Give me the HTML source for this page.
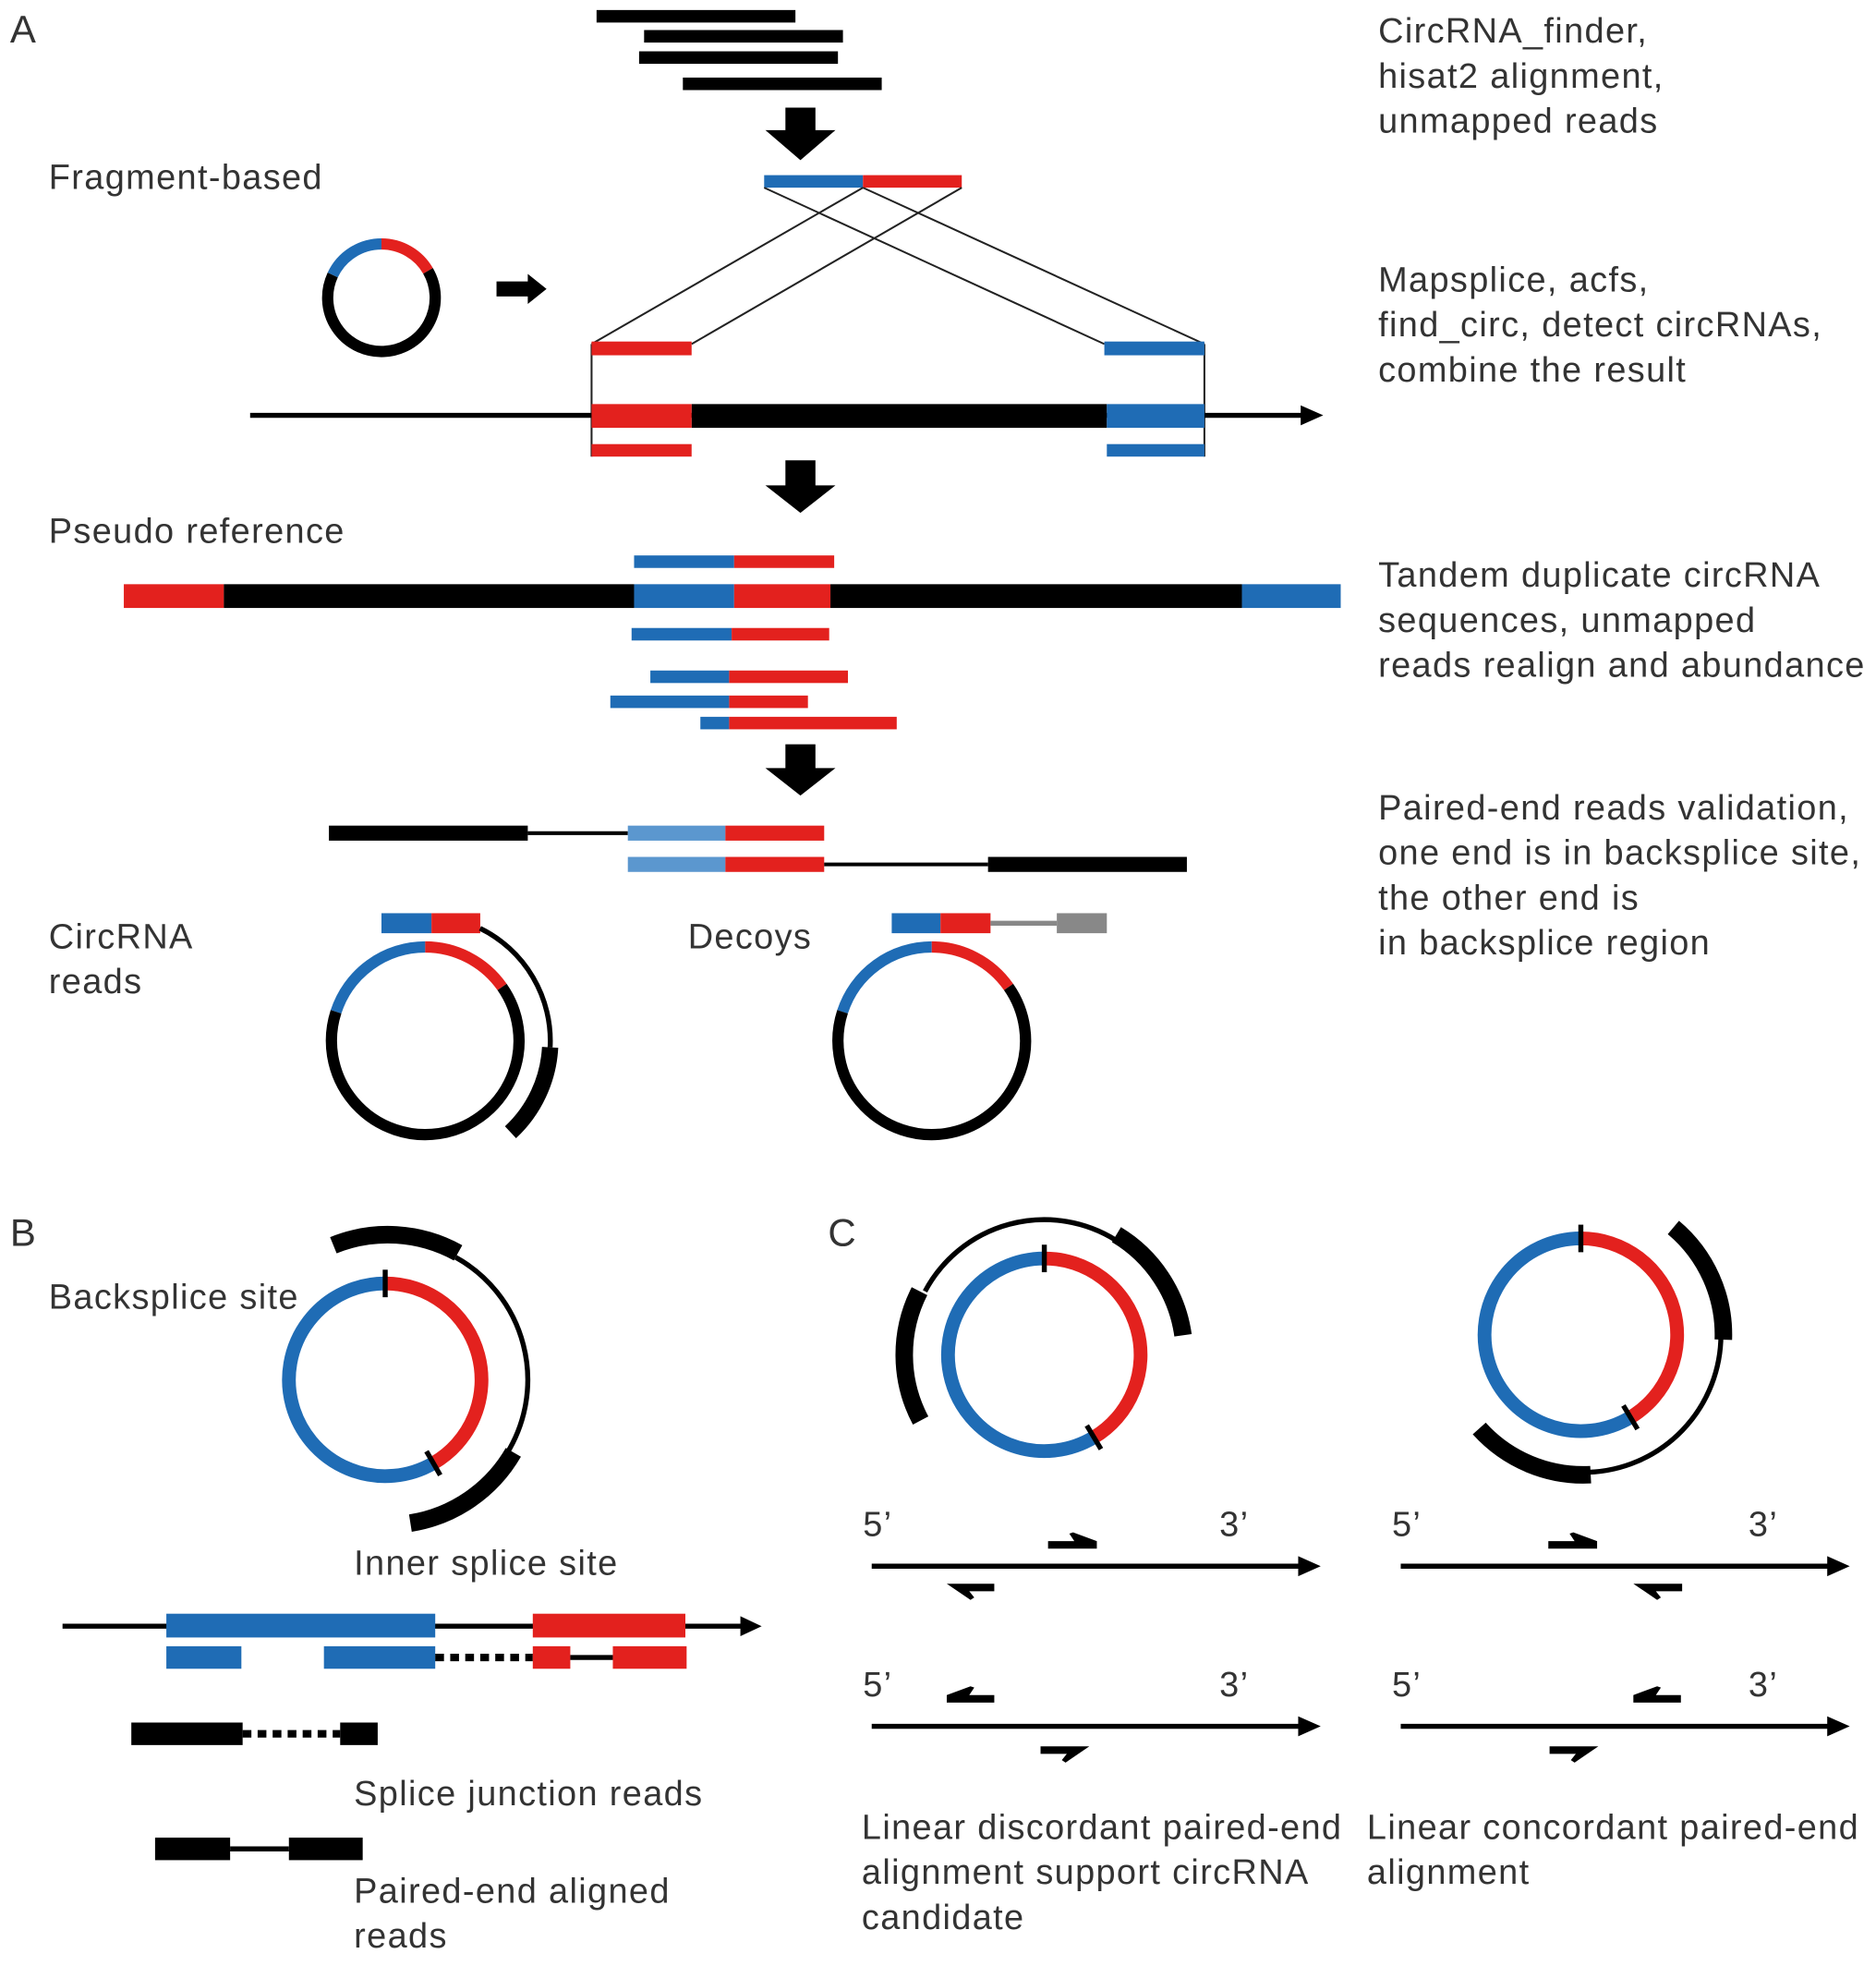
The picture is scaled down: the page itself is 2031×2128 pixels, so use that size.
<!DOCTYPE html>
<html><head><meta charset="utf-8"><style>
html,body{margin:0;padding:0;background:#fff;}
svg{display:block;}
text{font-family:"Liberation Sans",Arial,sans-serif;fill:#333;font-size:28px;letter-spacing:1px;}
</style></head><body>
<svg id="s" width="2031" height="2128" viewBox="0 0 1500 1571.6" xmlns="http://www.w3.org/2000/svg">
<defs>
<style>.b{fill:#1f6cb5}.r{fill:#e3211e}.k{fill:#000}.lb{fill:#5b97cf}</style>
</defs>
<!-- Panel A -->
<text x="8" y="34" style="font-size:31px">A</text>
<rect class="k" x="477" y="8" width="159" height="10"/>
<rect class="k" x="515" y="24" width="159" height="10"/>
<rect class="k" x="511" y="41" width="159" height="10"/>
<rect class="k" x="546" y="62" width="159" height="10"/>
<path class="k" d="M628 86H652V104H668L640 128L612 104H628Z"/>
<text x="1102" y="34">CircRNA_finder,</text>
<text x="1102" y="70">hisat2 alignment,</text>
<text x="1102" y="106">unmapped reads</text>
<text x="39" y="151">Fragment-based</text>
<rect class="b" x="611" y="140" width="79" height="10"/>
<rect class="r" x="690" y="140" width="79" height="10"/>
<g stroke="#222" stroke-width="1.5">
<line x1="690" y1="150" x2="473" y2="275"/>
<line x1="769" y1="150" x2="553" y2="275"/>
<line x1="611" y1="150" x2="883" y2="275"/>
<line x1="690" y1="150" x2="963" y2="275"/>
<line x1="473" y1="275" x2="473" y2="365"/>
<line x1="963" y1="275" x2="963" y2="365"/>
</g>
<path class="k" d="M397 225H422V219L437 231L422 243V237H397Z"/>
<text x="1102" y="233">Mapsplice, acfs,</text>
<text x="1102" y="269">find_circ, detect circRNAs,</text>
<text x="1102" y="305">combine the result</text>
<rect class="r" x="473" y="273" width="80" height="11"/>
<rect class="b" x="883" y="273" width="80" height="11"/>
<line x1="200" y1="332" x2="1045" y2="332" stroke="#000" stroke-width="4"/>
<path class="k" d="M1040 324L1058 332L1040 340Z"/>
<rect class="k" x="553" y="323" width="332" height="19"/>
<rect class="r" x="473" y="323" width="80" height="19"/>
<rect class="b" x="885" y="323" width="78" height="19"/>
<rect class="r" x="473" y="355" width="80" height="10"/>
<rect class="b" x="885" y="355" width="78" height="10"/>
<path class="k" d="M628 368H652V388H668L640 410L612 388H628Z"/>
<text x="39" y="434">Pseudo reference</text>
<rect class="b" x="507" y="444" width="80" height="10"/>
<rect class="r" x="587" y="444" width="80" height="10"/>
<rect class="r" x="99" y="467" width="80" height="19"/>
<rect class="k" x="179" y="467" width="328" height="19"/>
<rect class="b" x="507" y="467" width="80" height="19"/>
<rect class="r" x="587" y="467" width="77" height="19"/>
<rect class="k" x="664" y="467" width="329" height="19"/>
<rect class="b" x="993" y="467" width="79" height="19"/>
<rect class="b" x="505" y="502" width="80" height="10"/><rect class="r" x="585" y="502" width="78" height="10"/>
<rect class="b" x="520" y="536" width="63" height="10"/><rect class="r" x="583" y="536" width="95" height="10"/>
<rect class="b" x="488" y="556" width="95" height="10"/><rect class="r" x="583" y="556" width="63" height="10"/>
<rect class="b" x="560" y="573" width="23" height="10"/><rect class="r" x="583" y="573" width="134" height="10"/>
<text x="1102" y="469">Tandem duplicate circRNA</text>
<text x="1102" y="505">sequences, unmapped</text>
<text x="1102" y="541">reads realign and abundance</text>
<path class="k" d="M628 595H652V614H668L640 636L612 614H628Z"/>
<rect class="k" x="263" y="660" width="159" height="12"/>
<line x1="422" y1="666" x2="502" y2="666" stroke="#000" stroke-width="3"/>
<rect class="lb" x="502" y="660" width="78" height="12"/>
<rect class="r" x="580" y="660" width="79" height="12"/>
<rect class="lb" x="502" y="685" width="78" height="12"/>
<rect class="r" x="580" y="685" width="79" height="12"/>
<line x1="659" y1="691" x2="790" y2="691" stroke="#000" stroke-width="3"/>
<rect class="k" x="790" y="685" width="159" height="12"/>
<text x="1102" y="655">Paired-end reads validation,</text>
<text x="1102" y="691">one end is in backsplice site,</text>
<text x="1102" y="727">the other end is</text>
<text x="1102" y="763">in backsplice region</text>
<text x="39" y="758">CircRNA</text>
<text x="39" y="794">reads</text>
<text x="550" y="758">Decoys</text>
<rect class="b" x="305" y="730" width="40" height="16"/>
<rect class="r" x="345" y="730" width="39" height="16"/>
<rect class="b" x="713" y="730" width="39" height="16"/>
<rect class="r" x="752" y="730" width="40" height="16"/>
<line x1="792" y1="738" x2="845" y2="738" stroke="#888" stroke-width="4"/>
<rect x="845" y="730" width="40" height="16" fill="#888"/>
<!-- Panel B -->
<text x="8" y="996" style="font-size:31px">B</text>
<text x="39" y="1046">Backsplice site</text>
<text x="283" y="1259">Inner splice site</text>
<line x1="50" y1="1300" x2="595" y2="1300" stroke="#000" stroke-width="4"/>
<path class="k" d="M592 1292L609 1300L592 1308Z"/>
<rect class="b" x="133" y="1290" width="215" height="19"/>
<rect class="r" x="426" y="1290" width="122" height="19"/>
<rect class="b" x="133" y="1316" width="60" height="18"/>
<rect class="b" x="259" y="1316" width="89" height="18"/>
<line x1="348" y1="1325" x2="426" y2="1325" stroke="#000" stroke-width="6" stroke-dasharray="7,5"/>
<rect class="r" x="426" y="1316" width="30" height="18"/>
<line x1="456" y1="1325" x2="490" y2="1325" stroke="#000" stroke-width="4"/>
<rect class="r" x="490" y="1316" width="59" height="18"/>
<rect class="k" x="105" y="1377" width="89" height="18"/>
<line x1="194" y1="1386" x2="272" y2="1386" stroke="#000" stroke-width="6" stroke-dasharray="7,5"/>
<rect class="k" x="272" y="1377" width="30" height="18"/>
<text x="283" y="1443">Splice junction reads</text>
<rect class="k" x="124" y="1469" width="60" height="18"/>
<line x1="184" y1="1478" x2="231" y2="1478" stroke="#000" stroke-width="4"/>
<rect class="k" x="231" y="1469" width="59" height="18"/>
<text x="283" y="1521">Paired-end aligned</text>
<text x="283" y="1557">reads</text>
<!-- Panel C -->
<text x="662" y="996" style="font-size:31px">C</text>
<g stroke="#000" stroke-width="4">
<line x1="697" y1="1252" x2="1042" y2="1252"/>
<line x1="697" y1="1380" x2="1042" y2="1380"/>
<line x1="1120" y1="1252" x2="1465" y2="1252"/>
<line x1="1120" y1="1380" x2="1465" y2="1380"/>
</g>
<path class="k" d="M1038 1244L1056 1252L1038 1260Z M1038 1372L1056 1380L1038 1388Z M1461 1244L1479 1252L1461 1260Z M1461 1372L1479 1380L1461 1388Z"/>
<text x="690" y="1228">5’</text><text x="975" y="1228">3’</text>
<text x="690" y="1356">5’</text><text x="975" y="1356">3’</text>
<text x="1113" y="1228">5’</text><text x="1398" y="1228">3’</text>
<text x="1113" y="1356">5’</text><text x="1398" y="1356">3’</text>
<g class="k">
<path d="M838 1232H859L855 1226L858 1225L877 1232V1238H838Z"/>
<path d="M1238 1232H1259L1255 1226L1258 1225L1277 1232V1238H1238Z"/>
<path d="M795 1266H757L776 1279L779 1277L775 1272H795Z"/>
<path d="M1345 1266H1306L1325 1279L1328 1277L1324 1272H1345Z"/>
<path d="M795 1361H757V1355L776 1348L779 1349L775 1355H795Z"/>
<path d="M1344 1361H1306V1355L1325 1348L1328 1349L1324 1355H1344Z"/>
<path d="M832 1396H871L852 1409L849 1407L853 1402H832Z"/>
<path d="M1239 1396H1278L1259 1409L1256 1407L1260 1402H1239Z"/>
</g>
<text x="689" y="1470">Linear discordant paired-end</text>
<text x="689" y="1506">alignment support circRNA</text>
<text x="689" y="1542">candidate</text>
<text x="1093" y="1470">Linear concordant paired-end</text>
<text x="1093" y="1506">alignment</text>
<g id="arcs" fill="none"></g>
</svg>
<script>
(function(){
var g=document.getElementById('arcs');
function P(cx,cy,r,a){var t=a*Math.PI/180;return [cx+r*Math.sin(t),cy-r*Math.cos(t)];}
function arc(cx,cy,r,a1,a2,col,w){
 var p=P(cx,cy,r,a1),q=P(cx,cy,r,a2),la=(a2-a1)>180?1:0;
 var e=document.createElementNS('http://www.w3.org/2000/svg','path');
 e.setAttribute('d','M'+p[0]+' '+p[1]+'A'+r+' '+r+' 0 '+la+' 1 '+q[0]+' '+q[1]);
 e.setAttribute('stroke',col);e.setAttribute('stroke-width',w);e.setAttribute('fill','none');g.appendChild(e);}
function tick(cx,cy,r,a,len){var p=P(cx,cy,r-len/2,a),q=P(cx,cy,r+len/2,a);
 var e=document.createElementNS('http://www.w3.org/2000/svg','line');
 e.setAttribute('x1',p[0]);e.setAttribute('y1',p[1]);e.setAttribute('x2',q[0]);e.setAttribute('y2',q[1]);
 e.setAttribute('stroke','#000');e.setAttribute('stroke-width',4);g.appendChild(e);}
var B='#1f6cb5',R='#e3211e',K='#000';
arc(305,238,43,-65,0,B,9);arc(305,238,43,0,60,R,9);arc(305,238,43,60,295,K,9);
arc(340,832,75,-72,0,B,9);arc(340,832,75,0,55,R,9);arc(340,832,75,55,288,K,9);
arc(340,832,100,26,93,K,4);arc(340,832,100,93,137,K,13);
arc(745,832,75,-72,0,B,9);arc(745,832,75,0,55,R,9);arc(745,832,75,55,288,K,9);
arc(308,1103,77,0,150,R,11);arc(308,1103,77,150,360,B,11);tick(308,1103,77,0,22);tick(308,1103,77,150,22);
arc(310,1103,116,-22,29,K,14);arc(310,1103,112,29,122,K,4);arc(310,1103,116,120,171,K,14);
arc(835,1083,77,0,149,R,11);arc(835,1083,77,149,360,B,11);tick(835,1083,77,0,22);tick(835,1083,77,149,22);
arc(835,1083,108,-62,32,K,4);arc(835,1083,112,242,297,K,14);arc(835,1083,112,31,82,K,14);
arc(1264,1067,77,0,149,R,11);arc(1264,1067,77,149,360,B,11);tick(1264,1067,77,0,22);tick(1264,1067,77,149,22);
arc(1266,1067,112,40,92,K,14);arc(1266,1067,110,90,178,K,4);arc(1266,1067,112,177,228,K,14);
})();
</script>
</body></html>
